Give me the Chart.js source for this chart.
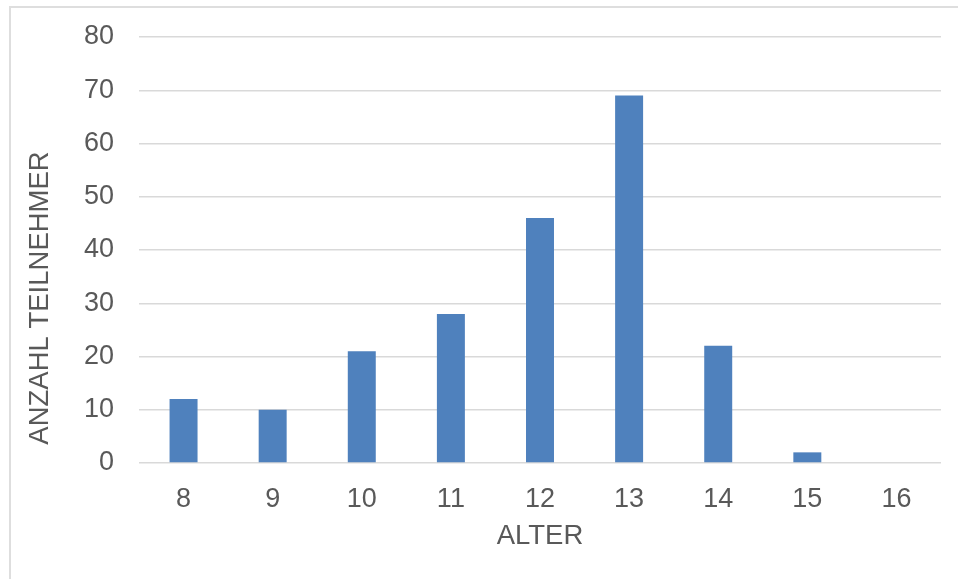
<!DOCTYPE html>
<html>
<head>
<meta charset="utf-8">
<script src="https://cdn.jsdelivr.net/npm/chart.js@4.4.1/dist/chart.umd.min.js"></script>
<style>
    html, body { margin: 0; padding: 0; background: #fff; overflow: hidden; }
    #wrap { position: relative; width: 958px; height: 579px; }
    #frame { position: absolute; left: 9px; top: 6px; width: 1000px; height: 1000px; border: 2px solid #dedede; box-sizing: border-box; }
    canvas { position: absolute; left: 0; top: 0; }
</style>
</head>
<body>
<div id="wrap">
    <div id="frame"></div>
    <canvas id="chart" width="958" height="579"></canvas>
</div>
<script>
// Altersverteilung der Teilnehmer
const AGES = ['8', '9', '10', '11', '12', '13', '14', '15', '16'];
const COUNTS = [12, 10, 21, 28, 46, 69, 22, 2, 0];
const Y_MAX = 80;
const Y_STEP = 10;

const INK = '#595959';
const GRID = '#d9d9d9';
const BAR = '#4f81bd';
const FONT = '"Liberation Sans", Arial, sans-serif';

// Excel setzt den Achsentitel etwas tiefer als die Mitte der Zeichenfläche
const yTitle = {
    id: 'yTitle',
    afterDraw(chart) {
        const ctx = chart.ctx;
        ctx.save();
        ctx.translate(40, 298);
        ctx.rotate(-Math.PI / 2);
        ctx.font = '27.5px ' + FONT;
        ctx.fillStyle = INK;
        ctx.textAlign = 'center';
        ctx.textBaseline = 'middle';
        ctx.fillText('ANZAHL TEILNEHMER', 0, 0);
        ctx.restore();
    },
};

new Chart(document.getElementById('chart'), {
    type: 'bar',
    data: {
        labels: AGES,
        datasets: [{
            data: COUNTS,
            backgroundColor: BAR,
            borderWidth: 0,
            categoryPercentage: 1,
            barPercentage: 0.314,
        }],
    },
    options: {
        responsive: false,
        animation: false,
        devicePixelRatio: 1,
        layout: { padding: { top: 37, right: 17, bottom: 26, left: 0 } },
        plugins: { legend: { display: false }, tooltip: { enabled: false } },
        scales: {
            x: {
                grid: { display: false },
                border: { display: false },
                ticks: { color: INK, font: { family: FONT, size: 27 }, padding: 12, maxRotation: 0 },
                title: { display: true, text: 'ALTER', color: INK, font: { family: FONT, size: 27.5 }, padding: 0 },
                afterFit: (s) => { s.height = 90; },
            },
            y: {
                min: 0,
                max: Y_MAX,
                grid: { color: GRID, lineWidth: 1.5, drawTicks: false },
                border: { display: false },
                ticks: { stepSize: Y_STEP, color: INK, font: { family: FONT, size: 27 }, padding: 25 },
                afterFit: (s) => {
                    s.width = 139;
                    // Tick-Abstand soll den oberen Rand nicht vergrößern
                    s.paddingTop = 0;
                    s.paddingBottom = 0;
                },
            },
        },
    },
    plugins: [yTitle],
});
</script>
</body>
</html>
